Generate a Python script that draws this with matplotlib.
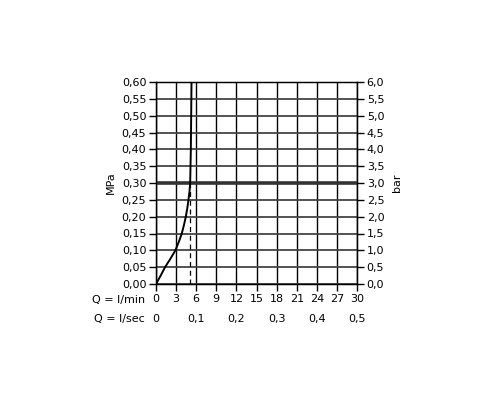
import matplotlib
matplotlib.use("Agg")
import matplotlib.pyplot as plt
import matplotlib.transforms as mtransforms

# Data
flow_lmin = [0.0, 0.7, 1.35, 2.15, 2.9, 3.4, 3.85, 4.17, 4.45, 4.67, 4.85, 5.0, 5.1, 5.2, 5.3]
pressure_mpa = [0.0, 0.025, 0.05, 0.075, 0.10, 0.125, 0.15, 0.175, 0.20, 0.225, 0.25, 0.275, 0.30, 0.40, 0.60]
limit_pressure = 0.30
dashed_flow = 5.1
xticks_lmin = [0, 3, 6, 9, 12, 15, 18, 21, 24, 27, 30]
lsec_positions = [0, 6, 12, 18, 24, 30]
lsec_labels = ["0", "0,1", "0,2", "0,3", "0,4", "0,5"]
yticks_mpa = [i * 0.05 for i in range(13)]
yticks_bar = [i * 0.5 for i in range(13)]

plt.rcParams['font.family'] = ['DejaVu Sans']
fig = plt.figure(figsize=(5, 4), dpi=100)
ax = fig.add_axes([0.312, 0.29, 0.402, 0.505])

ax.set_xlim(0, 30)
ax.set_ylim(0, 0.6)

# grid
for x in xticks_lmin:
    ax.axvline(x, color="black", lw=1.0, zorder=1)
for y in yticks_mpa:
    ax.axhline(y, color="#444444", lw=1.3, zorder=1)

ax.axhline(limit_pressure, color="#333333", lw=2.6, zorder=3)
ax.plot([dashed_flow, dashed_flow], [0, limit_pressure], color="black", lw=0.9,
        ls=(0, (4, 3)), zorder=2)
ax.plot(flow_lmin, pressure_mpa, color="black", lw=1.4, zorder=4,
        solid_joinstyle="round")

for s in ax.spines.values():
    s.set_linewidth(1.0)

ax.set_yticks(yticks_mpa)
ax.set_yticklabels([f"{v:.2f}".replace(".", ",") for v in yticks_mpa], fontsize=8)
ax.set_xticks(xticks_lmin)
ax.set_xticklabels([str(v) for v in xticks_lmin], fontsize=8)
ax.tick_params(axis="both", direction="out", length=5, width=1.0, pad=2)
ax.set_ylabel("MPa", fontsize=8)
ax.yaxis.set_label_coords(-0.2, 0.5)

ax2 = ax.twinx()
ax2.set_ylim(0, 6.0)
ax2.set_yticks(yticks_bar)
ax2.set_yticklabels([f"{v:.1f}".replace(".", ",") for v in yticks_bar], fontsize=8)
ax2.tick_params(axis="y", direction="out", length=5, width=1.0, pad=2)
ax2.set_ylabel("bar", fontsize=8, rotation=90)
ax2.yaxis.set_label_coords(1.173, 0.5)

trans = mtransforms.blended_transform_factory(ax.transData, ax.transAxes)
for pos, lab in zip(lsec_positions, lsec_labels):
    ax.text(pos, -0.175, lab, transform=trans, ha="center", va="center", fontsize=8)

ax.text(-0.055, -0.077, "Q = l/min", transform=ax.transAxes, ha="right", va="center", fontsize=8)
ax.text(-0.055, -0.175, "Q = l/sec", transform=ax.transAxes, ha="right", va="center", fontsize=8)

fig.savefig("out.png", dpi=100)
